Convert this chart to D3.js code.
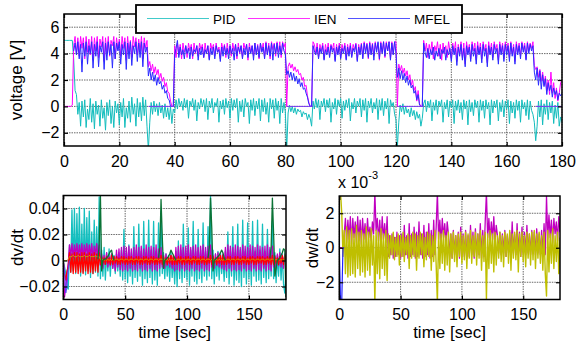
<!DOCTYPE html>
<html>
<head>
<meta charset="utf-8">
<script src="https://cdn.jsdelivr.net/npm/d3@7"></script>
<style>
  html, body { margin: 0; padding: 0; background: #fff; }
  svg { display: block; font-family: "Liberation Sans", Arial, sans-serif; }
</style>
</head>
<body>
<svg id="fig" width="576" height="347"></svg>
<script>
// ---------------------------------------------------------------
// Sampling steps (seconds)
const voltStep = 0.5;
const rateStep = 1;

// Output voltage of the three controllers, one row per 10 s
const pid = [
  5,5,5,5,5,5,5,3.6,1.2,0.9,-0.6,0.3,-1.5,0.4,-0.8,0.5,-1.6,-0.2,-1.0,0.6,
  -1.2,0.2,-1.7,0.4,-0.6,0.1,-1.5,0.5,-0.9,-0.1,-1.8,0.3,-0.7,0.5,-1.3,0.0,-1.6,0.4,-0.5,0.2,
  -1.4,0.3,-0.8,0.6,-1.6,-0.1,-0.9,0.4,-1.2,0.7,-0.6,0.2,-1.5,0.6,-0.8,0.3,-1.1,0.7,-0.7,0.5,
  -1.5,-3.3,-1.2,0.3,-0.6,0.4,-0.4,0.2,-0.7,0.3,-0.5,0.1,-0.9,0.2,-0.8,-0.1,-1.0,0.0,-1.3,-0.2,
  -0.5,0.5,-0.2,0.6,0.0,0.4,-0.3,0.6,-0.1,0.5,-0.9,0.4,0.0,0.6,-0.3,0.5,-1.1,0.3,-0.2,0.6,
  0.0,0.5,-0.4,0.6,-1.0,0.4,-0.1,0.6,-0.5,0.3,0.0,0.6,-1.2,0.4,-0.2,0.5,-0.6,0.6,-0.1,0.4,
  -0.9,0.6,-0.3,0.5,-0.1,0.6,-1.2,0.4,-0.4,0.5,-0.8,0.6,0.0,0.3,-1.3,0.5,-0.3,0.6,-0.7,0.4,
  -0.2,0.6,-1.1,0.5,-0.4,0.6,-0.6,0.3,-1.2,0.6,-0.2,0.5,-0.9,0.6,-0.3,0.4,-1.3,0.6,-0.5,0.3,
  -0.4,-3.3,-0.5,0.1,-0.4,0.0,-0.5,-0.1,-0.6,-0.2,-0.4,-0.3,-0.8,-0.4,-0.6,-0.5,-1.0,-0.6,-0.9,-1.5,
  0.4,-0.2,0.6,-0.1,0.5,-1.0,0.4,0.0,0.6,-0.4,0.5,-0.1,0.6,-1.2,0.3,-0.2,0.6,-0.6,0.5,0.0,
  0.6,-0.9,0.4,-0.3,0.5,-0.1,0.6,-1.1,0.3,-0.2,0.6,-0.5,0.4,0.0,0.6,-0.8,0.5,-0.3,0.6,-1.2,
  0.4,-0.1,0.6,-0.5,0.3,-0.2,0.6,-1.0,0.5,-0.3,0.6,-0.7,0.4,-0.2,0.6,-1.3,0.5,0.0,0.3,-0.6,
  -1.0,-3.1,-1.2,0.1,-0.4,0.2,-0.6,0.0,-0.5,-0.2,-0.8,-0.1,-0.7,-0.3,-1.0,-0.4,-0.9,-0.6,-1.5,-0.9,
  0.2,0.5,-0.4,0.4,-0.1,0.5,-1.1,0.3,-0.3,0.5,-0.6,0.4,0.0,0.5,-1.2,0.3,-0.2,0.5,-0.8,0.4,
  -0.1,0.5,-1.3,0.4,-0.3,0.5,-0.5,0.3,-1.0,0.5,-0.2,0.4,-1.4,0.5,-0.4,0.3,-0.7,0.5,-0.1,0.4,
  -1.2,0.5,-0.3,0.4,-0.9,0.5,-0.2,0.3,-1.4,0.5,-0.5,0.4,-0.1,0.5,-1.1,0.3,-0.4,0.5,-0.8,0.4,
  -0.2,0.5,-1.3,0.4,-0.5,0.3,-0.9,0.5,-0.3,0.4,-1.2,0.5,-0.2,0.3,-0.7,0.5,-1.0,0.4,-0.3,-0.6,
  -1.2,-2.6,-1.5,0.4,-0.8,0.5,-1.4,0.2,-0.6,0.5,-1.0,0.3,-0.5,0.4,-1.3,0.1,-0.9,0.3,-1.5,-0.8,
  -1.2
];

const ien = [
  0,0,0,0,0,0,0.1,4.6,5.3,4.0,5.2,3.8,5.3,4.4,5.2,3.6,5.3,4.1,5.1,3.9,
  5.3,3.5,5.2,4.2,5.3,3.7,5.1,4.5,5.3,3.4,5.2,4.0,5.3,3.8,5.0,4.6,5.3,3.6,5.2,4.3,
  5.1,3.8,5.3,4.4,5.2,3.5,5.3,4.1,5.0,3.7,5.3,4.5,5.2,3.9,5.1,4.2,5.3,3.6,5.2,4.4,
  5.0,3.0,3.4,2.7,3.2,2.5,3.0,2.4,2.8,2.1,2.5,1.9,2.2,1.5,1.8,1.1,1.0,0.4,0.0,0.0,
  4.6,3.7,4.8,3.9,4.7,3.6,4.8,4.1,4.6,3.7,4.8,4.2,4.7,3.6,4.8,4.0,4.6,3.8,4.8,4.3,
  4.7,3.7,4.8,4.0,4.6,3.6,4.8,4.3,4.7,3.8,4.8,4.1,4.5,3.6,4.8,4.2,4.7,3.7,4.8,4.0,
  4.6,3.8,4.8,4.2,4.7,3.6,4.8,4.0,4.6,3.7,4.8,4.3,4.7,3.5,4.8,4.1,4.6,3.8,4.8,4.0,
  4.7,3.6,4.8,4.2,4.8,3.7,4.9,4.0,4.8,3.6,4.9,4.3,4.8,3.8,4.9,4.1,4.9,3.7,4.9,4.5,
  4.8,0.0,3.0,3.3,2.9,3.2,2.7,3.0,2.6,2.8,2.4,2.5,2.0,2.2,1.5,1.6,0.8,0.3,0.0,0.0,
  4.9,4.7,4.0,4.8,3.7,4.7,4.2,4.8,3.6,4.7,4.1,4.8,3.8,4.7,4.3,4.8,3.5,4.7,4.0,4.8,
  3.7,4.7,4.2,4.8,3.6,4.7,4.0,4.8,3.8,4.7,4.3,4.8,3.5,4.7,4.1,4.8,3.7,4.9,4.2,4.8,
  3.6,4.9,4.0,4.8,3.8,4.9,4.3,4.8,3.5,4.9,4.1,4.9,3.7,4.9,4.2,4.9,3.6,4.9,4.0,4.9,
  4.9,0.0,3.2,2.7,3.1,2.5,2.9,2.3,2.7,2.0,2.4,1.6,2.0,1.2,1.5,0.4,1.2,0.2,0.0,0.0,
  5.0,4.2,4.8,3.7,4.7,4.1,4.9,3.6,4.6,4.2,4.9,3.8,4.7,3.5,4.8,4.0,4.6,3.7,4.9,4.2,
  3.6,4.8,4.1,4.9,3.4,4.7,4.0,4.9,3.7,4.8,3.2,4.9,4.1,4.7,3.6,4.9,4.2,4.8,3.5,4.9,
  4.0,4.8,3.6,4.9,4.2,4.7,3.3,4.9,4.0,4.8,3.7,4.9,4.3,4.7,3.5,4.9,4.1,4.8,3.6,4.9,
  4.2,4.8,3.7,4.9,4.0,4.7,3.4,4.9,4.1,4.8,3.8,4.9,4.3,4.8,3.6,4.9,4.2,4.8,4.4,4.9,
  3.1,2.8,3.0,2.2,2.8,1.9,2.6,1.6,2.3,1.2,2.0,0.9,2.6,1.0,1.8,0.6,1.4,0.4,1.0,1.8,
  2.0
];

const mfel = [
  null,null,null,null,null,null,null,4.2,4.8,3.9,4.9,3.6,4.7,2.6,4.8,3.8,4.9,3.2,4.6,4.0,
  4.9,2.9,4.7,3.8,4.9,3.0,4.6,4.1,4.9,2.8,4.8,3.5,4.9,3.9,4.7,2.9,4.9,3.6,4.8,4.2,
  4.9,3.2,4.7,3.9,4.9,2.8,4.8,3.6,4.9,3.1,4.6,4.0,4.9,3.4,4.8,3.7,4.9,3.0,4.8,4.1,
  4.5,2.3,2.9,2.0,2.6,1.9,2.4,1.6,2.2,1.7,1.9,1.3,1.6,1.0,1.2,0.6,0.5,0.0,0.0,0.0,
  3.9,4.4,5.0,3.7,4.5,3.9,4.3,3.6,4.6,4.0,4.4,3.6,4.5,3.8,4.3,4.1,4.6,3.5,4.4,3.9,
  4.5,3.7,4.3,4.0,4.6,3.5,4.4,3.9,4.5,3.6,4.6,4.1,4.3,3.4,4.5,3.8,4.6,3.9,4.4,3.6,
  4.6,4.0,4.4,3.5,4.7,3.8,4.5,4.1,4.6,3.6,4.4,3.9,4.7,3.7,4.5,4.0,4.6,3.5,4.8,3.9,
  4.6,3.7,4.8,4.1,4.5,3.6,4.8,3.9,4.6,3.8,4.8,3.5,4.7,4.0,4.8,3.7,4.6,3.9,4.8,4.2,
  4.0,2.4,2.7,2.2,2.6,2.0,2.5,1.9,2.3,1.7,2.1,1.5,1.8,1.3,1.4,1.0,0.7,0.2,0.0,0.0,
  4.6,4.2,3.9,4.5,3.6,4.4,4.0,4.6,3.5,4.3,3.9,4.5,3.7,4.6,4.1,4.4,3.4,4.5,3.9,4.6,
  3.6,4.4,4.0,4.6,3.5,4.5,3.8,4.6,3.7,4.4,4.1,4.7,3.4,4.5,3.9,4.7,3.6,4.8,4.0,4.7,
  3.7,4.8,3.9,4.7,3.5,4.8,4.1,4.9,3.6,4.8,4.0,4.9,3.8,4.8,4.2,4.9,3.5,4.8,3.9,4.9,
  4.0,2.2,2.9,2.1,2.7,2.0,2.5,1.8,2.3,1.6,2.0,1.4,1.6,1.0,1.2,0.5,0.9,0.1,0.0,0.0,
  4.8,4.1,3.7,4.4,3.6,4.3,3.9,4.5,3.5,4.2,3.8,4.4,3.6,4.3,4.0,4.5,3.5,4.3,3.9,4.4,
  3.4,4.6,3.9,4.4,3.1,4.5,3.8,4.7,3.5,4.4,3.0,4.6,3.9,4.5,3.4,4.7,3.8,4.4,3.2,4.6,
  3.9,4.5,3.3,4.7,3.8,4.4,3.0,4.6,3.9,4.5,3.5,4.7,4.0,4.4,3.2,4.7,3.9,4.6,3.4,4.7,
  3.9,4.6,3.4,4.8,3.8,4.5,3.2,4.7,3.9,4.6,3.6,4.8,4.1,4.6,3.5,4.8,4.0,4.7,4.2,4.6,
  2.6,2.0,2.9,1.6,2.7,1.3,2.4,1.5,2.1,0.9,1.8,1.2,1.6,0.7,1.4,0.9,1.2,0.5,1.0,0.8,
  1.0
];

// Intervals where the output is held at zero (start, end in s)
const holdStart = [30.5, 80.5, 120.5, 170.5];
const holdEnd   = [40, 90, 130, 180];

// dv/dt traces, in units of 1e-3, one row per 10 s
const dvCyan = [
  0,-5,-10,-20,-22,12,-9,39,-8,40,
  -10,36,-7,41,-12,28,-9,40,-11,33,
  -8,38,-13,22,-10,31,-9,26,-12,49,
  -14,8,-12,10,-15,6,-8,9,-12,5,
  -6,4,-10,5,-8,6,-12,8,-15,24,
  -14,7,-17,12,-12,6,-18,26,-13,8,
  -16,28,-12,7,-19,30,-14,6,-17,31,
  -13,8,-18,30,-15,7,-19,29,-12,38,
  -10,6,-14,5,-12,4,-16,7,-13,3,
  -18,7,-20,15,-14,8,-17,28,-13,6,
  -15,25,-19,8,-12,30,-16,7,-18,24,
  -14,8,-17,29,-12,7,-15,26,-12,50,
  -14,8,-18,5,-12,7,-15,6,-10,4,
  -16,7,-13,22,-18,8,-12,26,-19,6,
  -15,28,-17,8,-20,31,-13,7,-18,29,
  -14,8,-19,30,-12,7,-16,31,-15,8,
  -18,28,-13,7,-17,24,-14,8,-12,30,
  -14,6,-17,4,-12,9,-15,5,-18,-25,
  -10
];

const dvMagenta = [
  0,-28,-20,-10,-2,12,3,13,2,12,
  4,13,2,12,3,13,1,12,4,13,
  2,12,3,13,1,11,4,13,2,12,
  -4,5,-6,4,-3,6,-5,3,-4,5,
  -6,3,-8,8,-5,9,-7,10,-8,11,
  -7,10,-8,11,-6,9,-8,10,-7,12,
  -8,10,-6,11,-8,9,-7,12,-8,10,
  -6,11,-8,10,-7,12,-8,9,-6,10,
  -5,4,-6,5,-4,3,-5,4,-6,3,
  -8,10,-7,11,-8,12,-6,10,-8,11,
  -7,12,-8,10,-6,11,-8,12,-7,10,
  -8,11,-6,12,-8,10,-7,11,-8,12,
  -5,4,-6,5,-4,6,-5,4,-6,5,
  -7,10,-8,12,-6,11,-8,10,-7,12,
  -8,11,-7,10,-8,12,-6,11,-8,10,
  -7,12,-8,11,-6,10,-8,12,-7,11,
  -8,10,-6,11,-8,12,-7,10,-8,11,
  -5,4,-6,5,-4,6,-5,4,-6,5,
  0
];

const dvRed = [
  0,-10,-15,-8,-5,6,-9,5,-10,6,
  -9,6,-10,5,-9,6,-10,6,-8,5,
  -10,6,-9,5,-10,6,-8,5,-9,6,
  -3,3,-2,2,-3,3,-2,2,-3,4,
  -3,3,-2,3,-3,2,-3,3,-2,3,
  -3,2,-3,3,-2,3,-3,2,-3,3,
  -2,3,-3,2,-3,3,-2,3,-3,2,
  -3,3,-2,3,-3,2,-3,3,-2,4,
  -3,3,-2,2,-3,3,-2,4,-3,4,
  -3,2,-3,3,-2,3,-3,2,-3,3,
  -2,3,-3,2,-3,3,-2,3,-3,2,
  -3,3,-2,3,-3,2,-3,3,-2,4,
  -3,3,-2,2,-3,3,-2,4,-3,4,
  -3,2,-3,3,-2,3,-3,2,-3,3,
  -2,3,-3,2,-3,3,-2,3,-3,2,
  -3,3,-2,3,-3,2,-3,3,-2,3,
  -2,3,-3,2,-3,3,-2,3,-3,4,
  -3,3,-2,2,-3,3,-2,4,-3,4,
  0
];

const dvYellow = [
  0,0,0,0,1,3,3,3,4,3,
  3,3,4,3,3,3,3,4,3,3,
  3,4,3,3,3,3,4,3,3,3,
  1,0,1,0,1,0,1,0,1,0,
  1,0,1,1,1,0,1,1,1,0,
  1,1,1,0,1,1,1,0,1,1,
  1,0,1,1,1,0,1,1,1,0,
  1,1,1,0,1,1,1,0,1,1,
  1,0,1,0,1,0,1,0,1,0,
  1,0,1,1,1,0,1,1,1,0,
  1,1,1,0,1,1,1,0,1,1,
  1,0,1,1,1,0,1,1,1,0,
  1,0,1,0,1,0,1,0,1,0,
  1,0,1,1,1,0,1,1,1,0,
  1,1,1,0,1,1,1,0,1,1,
  1,0,1,1,1,0,1,1,1,0,
  1,1,1,0,1,1,1,0,1,1,
  1,0,1,0,1,0,1,0,1,0,
  0
];

const dvGreen = [
  null,null,null,null,null,null,null,null,null,null,
  null,null,null,null,null,null,null,null,null,null,
  null,null,null,null,null,null,null,null,1,12,
  50,-8,0,1,1,2,3,5,7,8,
  3,0,null,null,null,null,null,null,null,null,
  null,null,null,null,null,null,null,null,null,null,
  null,null,null,null,null,null,null,null,null,null,
  null,null,null,null,null,null,null,2,10,47,
  18,-6,0,1,2,3,5,8,6,4,
  2,0,null,null,null,null,null,null,null,null,
  null,null,null,null,null,null,null,null,null,null,
  null,null,null,null,null,null,null,2,10,48,
  25,-8,0,1,2,3,4,6,8,6,
  2,0,null,null,null,null,null,null,null,null,
  null,null,null,null,null,null,null,null,null,null,
  null,null,null,null,null,null,null,null,null,null,
  null,null,null,null,null,null,null,2,10,48,
  20,-12,-6,0,1,2,4,6,9,8,
  -28
];

const dvBlue = [0,-8,-25,-20,-6,0];

// dw/dt traces, in units of 1e-3, one row per 10 s
const dwMagenta = [
  0,0,0,0,0.8,1.7,0.3,1.6,0.5,1.8,
  0.2,1.7,0.6,1.5,0.3,1.8,0.4,1.6,0.2,1.7,
  0.5,1.4,0.3,1.7,0.6,1.2,0.4,1.5,0.8,3.2,
  1.0,1.7,0.4,1.6,0.2,1.8,0.5,1.4,0.3,1.8,
  -0.5,0.7,-0.4,0.8,-0.6,0.6,-0.5,0.9,-0.4,0.7,
  -0.6,0.8,-0.5,1.3,-0.4,0.7,-0.6,1.4,-0.5,0.8,
  -0.4,1.2,-0.6,0.9,-0.5,1.5,-0.4,0.8,-0.6,1.3,
  -0.5,0.9,-0.4,1.4,-0.6,1.0,-0.5,1.6,-0.4,1.2,
  3.2,0.5,1.6,0.3,1.7,0.6,1.4,0.2,1.5,0.8,
  -0.5,0.8,-0.6,1.0,-0.4,0.7,-0.5,0.9,-0.6,1.2,
  -0.4,0.8,-0.5,1.0,-0.6,0.7,-0.5,1.3,-0.4,0.9,
  -0.6,1.1,-0.5,0.8,-0.4,1.4,-0.6,1.0,-0.5,1.5,
  3.2,0.6,1.7,0.4,1.5,0.5,1.8,0.3,1.3,0.7,
  -0.3,0.9,-0.4,0.8,-0.3,1.0,-0.5,0.7,-0.3,0.9,
  -0.4,1.5,-0.3,0.8,-0.4,1.4,-0.3,0.9,-0.5,1.2,
  -0.3,0.9,-0.4,1.3,-0.3,0.8,-0.4,1.0,-0.3,0.9,
  -0.4,1.1,-0.3,0.8,-0.4,1.0,-0.3,1.4,-0.4,3.0,
  0.5,1.9,0.6,1.6,0.3,1.7,0.8,1.5,0.4,1.8,
  0.9
];

const dwYellow = [
  3.2,3.2,2.0,-0.5,1.0,-1.5,1.2,-1.7,1.0,-1.6,
  1.1,-1.5,0.8,-1.7,1.3,-1.2,0.9,-1.6,1.0,-1.4,
  0.8,-1.7,1.2,-1.3,0.9,-1.6,1.1,-1.0,0.7,-3.2,
  1.0,-1.5,0.9,-1.8,1.1,-1.2,0.8,-1.6,1.0,-1.9,
  0.8,-0.6,0.7,-0.4,0.9,-0.7,0.6,-0.5,0.8,-1.0,
  0.7,-0.5,0.9,-0.8,0.6,-0.4,0.8,-1.2,0.7,-0.6,
  0.9,-0.5,0.8,-1.3,0.7,-0.6,0.9,-0.4,0.8,-1.1,
  0.6,-0.7,0.9,-0.5,0.8,-1.3,0.7,-0.8,1.0,-1.0,
  -3.2,0.9,-1.2,0.8,-0.9,1.0,-1.3,0.7,-1.0,0.9,
  -1.4,0.8,-0.6,0.9,-0.8,0.7,-1.1,0.8,-0.5,0.9,
  -0.9,0.7,-0.7,0.9,-1.2,0.8,-0.6,1.0,-0.9,0.7,
  -0.5,0.9,-1.0,0.8,-0.6,1.0,-1.3,0.7,-0.8,0.9,
  -3.0,0.8,-1.2,1.0,-0.9,0.8,-1.4,0.9,-1.0,0.7,
  -0.6,0.9,-0.8,0.7,-1.1,0.9,-0.5,0.8,-0.9,1.0,
  -1.3,0.8,-0.6,0.9,-0.7,1.0,-1.4,0.8,-0.5,0.9,
  -0.8,0.7,-1.1,0.9,-0.6,0.8,-1.0,0.9,-0.7,1.0,
  -1.2,0.8,-0.6,0.9,-0.9,0.7,-1.3,0.9,-1.5,-2.8,
  1.0,-1.4,0.8,-0.9,1.1,-1.2,0.7,-0.8,0.9,-1.5,
  0.6
];

const dwBlue = [0,-3.1,-3.1,0,0];

// Axis ticks
const voltXTicks = [0,20,40,60,80,100,120,140,160,180];
const voltYTicks = [-2,0,2,4,6];
const rateXTicks = [0,50,100,150];
const dvYTicks = [-0.02,0,0.02,0.04];
const dwYTicks = [-2,0,2];

const legendNames = ["PID","IEN","MFEL"];
const legendColors = ["#12bdbd","#ff00ff","#2a2aff"];

// ---------------------------------------------------------------
const svg = d3.select("#fig");
const TICK_FONT = 16;
const LABEL_FONT = 17;

function panel(id, box, xDomain, yDomain) {
  const x = d3.scaleLinear().domain(xDomain).range([box.left, box.right]);
  const y = d3.scaleLinear().domain(yDomain).range([box.bottom, box.top]);
  const g = svg.append("g");
  g.append("clipPath").attr("id", id).append("rect")
    .attr("x", box.left).attr("y", box.top)
    .attr("width", box.right - box.left).attr("height", box.bottom - box.top);
  const grid = g.append("g").attr("class", "grid");
  const plot = g.append("g").attr("clip-path", `url(#${id})`);
  const frame = g.append("g");
  return { x, y, g, grid, plot, frame, box };
}

function drawGrid(p, xt, yt) {
  const { x, y, grid, box } = p;
  grid.selectAll("line.gx").data(xt).join("line")
    .attr("class", "gx")
    .attr("x1", d => x(d)).attr("x2", d => x(d))
    .attr("y1", box.top).attr("y2", box.bottom);
  grid.selectAll("line.gy").data(yt).join("line")
    .attr("class", "gy")
    .attr("x1", box.left).attr("x2", box.right)
    .attr("y1", d => y(d)).attr("y2", d => y(d));
  grid.selectAll("line")
    .attr("stroke", "#6a6a6a").attr("stroke-width", 1)
    .attr("stroke-dasharray", "1.5,1");
}

function drawFrame(p, xt, yt, yFmt, pad) {
  const { x, y, frame, box } = p;
  const style = sel => {
    sel.select(".domain").remove();
    sel.selectAll(".tick line").attr("stroke", "#000").attr("stroke-width", 1.2);
    sel.selectAll("text").attr("fill", "#000")
      .style("font-family", '"Liberation Sans", Arial, sans-serif')
      .style("font-size", TICK_FONT + "px");
  };
  frame.append("g").attr("transform", `translate(0,${box.bottom})`)
    .call(d3.axisBottom(x).tickValues(xt).tickSize(-4).tickPadding(pad.x).tickFormat(d3.format("d")))
    .call(style);
  frame.append("g").attr("transform", `translate(0,${box.top})`)
    .call(d3.axisTop(x).tickValues(xt).tickSize(-4).tickFormat(""))
    .call(style);
  frame.append("g").attr("transform", `translate(${box.left},0)`)
    .call(d3.axisLeft(y).tickValues(yt).tickSize(-4).tickPadding(pad.y).tickFormat(yFmt))
    .call(style);
  frame.append("g").attr("transform", `translate(${box.right},0)`)
    .call(d3.axisRight(y).tickValues(yt).tickSize(-4).tickFormat(""))
    .call(style);
  frame.append("rect")
    .attr("x", box.left).attr("y", box.top)
    .attr("width", box.right - box.left).attr("height", box.bottom - box.top)
    .attr("fill", "none").attr("stroke", "#000").attr("stroke-width", 1.5);
}

function trace(p, values, step, scale, color, width) {
  const line = d3.line()
    .defined(d => d != null)
    .x((d, i) => p.x(i * step))
    .y(d => p.y(d * scale));
  p.plot.append("path").datum(values)
    .attr("d", line)
    .attr("fill", "none")
    .attr("stroke", color)
    .attr("stroke-width", width)
    .attr("stroke-linejoin", "round");
}

// ---------------- voltage panel ----------------
const pv = panel("clipV", { left: 64, right: 562, top: 14, bottom: 146 }, [0, 180], [-3, 7]);
drawGrid(pv, voltXTicks, voltYTicks);
trace(pv, pid, voltStep, 1, legendColors[0], 1);
trace(pv, ien, voltStep, 1, legendColors[1], 1);
trace(pv, mfel, voltStep, 1, legendColors[2], 1);
pv.plot.selectAll("line.hold").data(holdStart).join("line")
  .attr("class", "hold")
  .attr("x1", d => pv.x(d)).attr("x2", (d, i) => pv.x(holdEnd[i]))
  .attr("y1", pv.y(0)).attr("y2", pv.y(0))
  .attr("stroke", "#7a3af0").attr("stroke-width", 1);
drawFrame(pv, voltXTicks, voltYTicks, d3.format("d"), { x: 10, y: 4.5 });

// legend
const lg = svg.append("g");
lg.append("rect").attr("x", 136).attr("y", 5).attr("width", 326).attr("height", 28)
  .attr("fill", "#fff").attr("stroke", "#000").attr("stroke-width", 1.8);
const legendX = [147, 248, 348];
legendNames.forEach((name, i) => {
  lg.append("line")
    .attr("x1", legendX[i]).attr("x2", legendX[i] + 62)
    .attr("y1", 18.5).attr("y2", 18.5)
    .attr("stroke", legendColors[i]).attr("stroke-width", 1).attr("opacity", 0.8);
  lg.append("text")
    .attr("x", legendX[i] + 66).attr("y", 24)
    .attr("font-size", 13.5).attr("fill", "#000")
    .text(name);
});

// ---------------- dv/dt panel ----------------
const pd = panel("clipD", { left: 63.3, right: 286, top: 195.5, bottom: 299.5 }, [0, 180], [-0.03, 0.05]);
drawGrid(pd, rateXTicks, dvYTicks);
trace(pd, dvCyan, rateStep, 1e-3, "#14bfbf", 1.3);
trace(pd, dvMagenta, rateStep, 1e-3, "#c000c0", 1.3);
trace(pd, dvRed, rateStep, 1e-3, "#ff0000", 1.3);
trace(pd, dvYellow, rateStep, 1e-3, "#bfbf00", 0.8);
trace(pd, dvBlue, rateStep, 1e-3, "#5a3cff", 1);
trace(pd, dvGreen, rateStep, 1e-3, "#0b7336", 1.3);
drawFrame(pd, rateXTicks, dvYTicks, d => d === 0 ? "0" : d3.format(".2f")(d), { x: 9, y: 3.5 });

// ---------------- dw/dt panel ----------------
const pw = panel("clipW", { left: 339.3, right: 560, top: 196, bottom: 299.5 }, [0, 180], [-3, 3]);
drawGrid(pw, rateXTicks, dwYTicks);
trace(pw, dwMagenta, rateStep, 1, "#c000c0", 1.3);
trace(pw, dwYellow, rateStep, 1, "#bfbf00", 1.4);
trace(pw, dwBlue, rateStep, 1, "#2020ff", 1.2);
drawFrame(pw, rateXTicks, dwYTicks, d3.format("d"), { x: 9, y: 5 });

// exponent label of the dw/dt axis
const ex = svg.append("text").attr("x", 338).attr("y", 188)
  .attr("font-size", TICK_FONT).attr("fill", "#000");
ex.append("tspan").text("x 10");
ex.append("tspan").attr("dy", -9).attr("font-size", 11).text("-3");

// ---------------- axis titles ----------------
const title = (x, y, rot, txt) => svg.append("text")
  .attr("transform", `translate(${x},${y})` + (rot ? " rotate(-90)" : ""))
  .attr("text-anchor", "middle").attr("font-size", LABEL_FONT).attr("fill", "#000")
  .text(txt);
title(21.5, 80, true, "voltage [V]");
title(22.5, 247.5, true, "dv/dt");
title(318, 248, true, "dw/dt");
title(174.5, 337.5, false, "time [sec]");
title(449.5, 337.5, false, "time [sec]");
</script>
</body>
</html>
